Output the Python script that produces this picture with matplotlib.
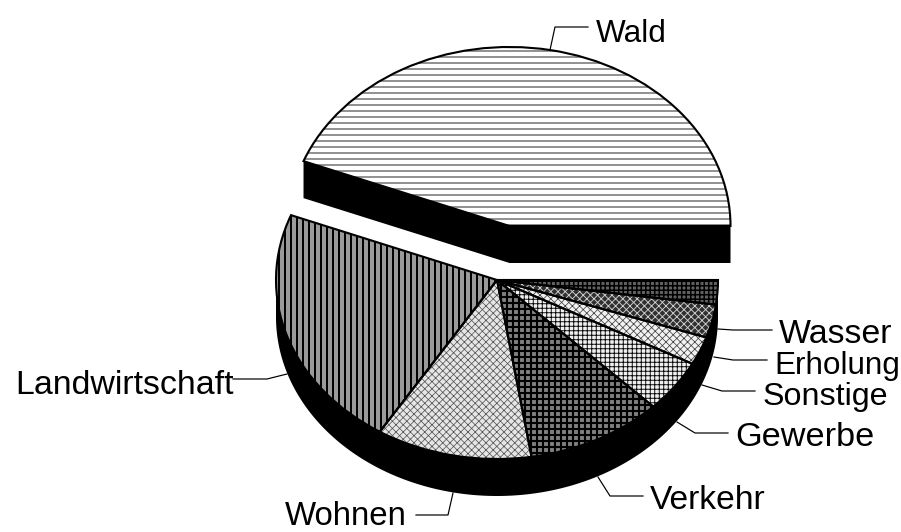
import numpy as np
import matplotlib
matplotlib.use('Agg')
import matplotlib.pyplot as plt
from matplotlib.transforms import Affine2D

# Datos de la torta (porcentajes)
etiquetas = ['Wald', 'Landwirtschaft', 'Wohnen', 'Verkehr', 'Gewerbe', 'Sonstige', 'Erholung', 'Wasser']
valores = [44.1, 22.0, 11.4, 10.0, 4.75, 2.55, 3.0, 2.2]
separacion = [0.307, 0, 0, 0, 0, 0, 0, 0]

# Tramas: relleno, patron, color y grosor de linea
rellenos = ['white', '#9a9a9a', '#e6e6e6', '#808080', '#f0f0f0', '#f2f2f2', '#303030', '#606060']
tramas = ['---', '|||', 'xxxxx', '+++', '++++', 'xxxxx', 'xxxxx', '++++']
colores_trama = ['#606060', 'black', '#555555', 'black', 'black', '#404040', '#d0d0d0', 'black']
grosor_trama = [0.9, 1.3, 0.5, 1.4, 0.6, 0.5, 0.6, 1.0]

# Posicion de cada etiqueta (linea base) y su linea guia, en pixeles
pos_texto = [(596, 42), (15, 394), (285, 525), (650, 509), (735, 446), (763, 405), (774, 374), (779, 343)]
tamanos = [21.0, 22.6, 22.0, 22.4, 22.8, 21.5, 21.0, 22.6]
guias = [
    [(550, 50), (555, 27), (588, 27)],
    [(287, 374), (267, 379), (233, 379)],
    [(453, 493), (448, 515), (416, 515)],
    [(598, 477), (610, 496), (643, 496)],
    [(677, 422), (695, 433), (728, 433)],
    [(702, 385), (722, 391), (755, 391)],
    [(714, 357), (733, 360), (767, 360)],
    [(718, 329), (733, 330), (772, 330)],
]

ANCHO, ALTO = 902, 532
DPI = 108
cx, cy = 497, 280
a, b = 221, 179
prof = 37 / b

plt.rcParams['font.family'] = ['Liberation Sans', 'DejaVu Sans']

fig = plt.figure(figsize=(ANCHO / DPI, ALTO / DPI), dpi=DPI)
ax = fig.add_axes([0, 0, 1, 1])

# Paredes negras
t = np.radians(np.linspace(180, 360, 200))
ax.fill(np.r_[np.cos(t), np.cos(t[::-1])],
        np.r_[np.sin(t), np.sin(t[::-1]) - prof], color='black', lw=0)

fin_wald = np.radians(valores[0] / sum(valores) * 360)
medio = fin_wald / 2
dx = separacion[0] * np.cos(medio)
dy = separacion[0] * np.sin(medio)
pared_x = np.array([np.cos(fin_wald), 0, 1]) + dx
pared_y = np.array([np.sin(fin_wald), 0, 0]) + dy
ax.fill(np.r_[pared_x, pared_x[::-1]], np.r_[pared_y, pared_y[::-1] - prof], color='black', lw=0)

# Primero las tramas, luego el contorno negro encima
wedges, _ = ax.pie(valores, explode=separacion, startangle=0, colors=rellenos, hatch=tramas,
                   wedgeprops={'linewidth': 0})
for w, c, g in zip(wedges, colores_trama, grosor_trama):
    w.set_edgecolor(c)
    w.set_linewidth(0)
    w.set_hatch_linewidth(g)
ax.pie(valores, explode=separacion, startangle=0,
       wedgeprops={'fill': False, 'edgecolor': 'black', 'linewidth': 1.4})

ax.set_aspect('auto')
ax.set_xlim(-cx / a, (ANCHO - cx) / a)
ax.set_ylim(-(ALTO - cy) / b, cy / b)
ax.axis('off')

# Transformacion en pixeles para textos y guias
pix = Affine2D().scale(1 / ANCHO, -1 / ALTO).translate(0, 1) + fig.transFigure
for nombre, pos, tam, guia in zip(etiquetas, pos_texto, tamanos, guias):
    ax.text(pos[0], pos[1], nombre, transform=pix, fontsize=tam, color='black', ha='left', va='baseline')
    ax.plot([p[0] for p in guia], [p[1] for p in guia], transform=pix, color='black', lw=0.8)

fig.savefig('out.png', dpi=DPI)
